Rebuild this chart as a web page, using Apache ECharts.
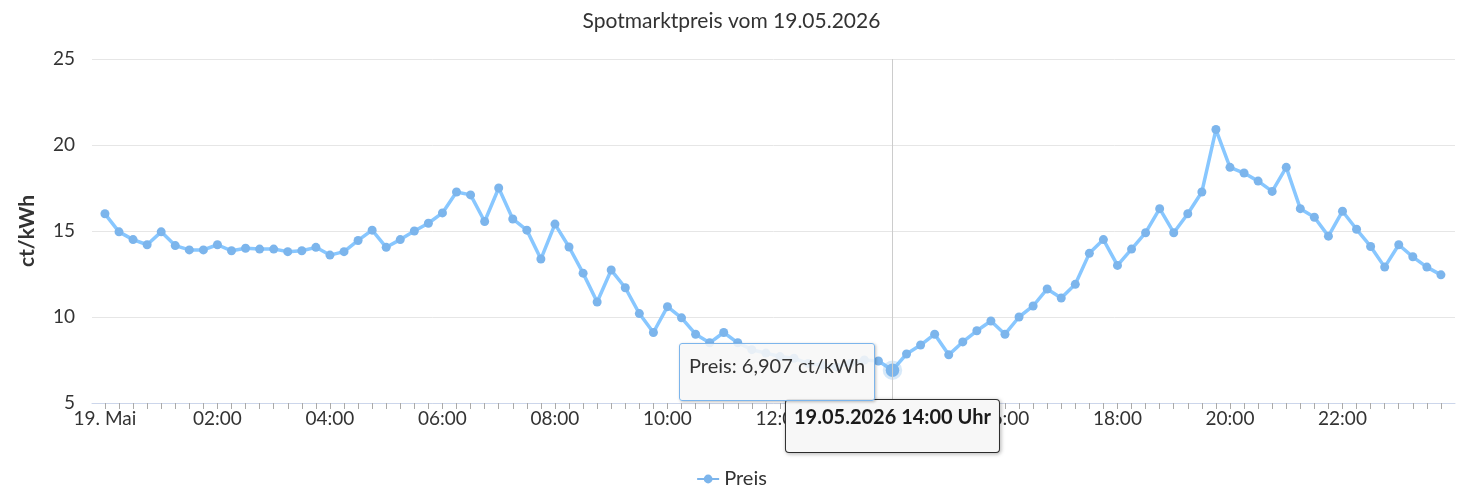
<!DOCTYPE html>
<html>
<head>
<meta charset="utf-8">
<script src="https://cdn.jsdelivr.net/npm/echarts@6/dist/echarts.min.js"></script>
<style>
  html, body { margin: 0; padding: 0; background: #fff; }
  #chart { width: 1463px; height: 488px; }
</style>
</head>
<body>
<div id="chart"></div>
<script>
// Zeitpunkte (15-Minuten-Raster) am 19.05.2026
const times = [
  '00:00','00:15','00:30','00:45','01:00','01:15','01:30','01:45',
  '02:00','02:15','02:30','02:45','03:00','03:15','03:30','03:45',
  '04:00','04:15','04:30','04:45','05:00','05:15','05:30','05:45',
  '06:00','06:15','06:30','06:45','07:00','07:15','07:30','07:45',
  '08:00','08:15','08:30','08:45','09:00','09:15','09:30','09:45',
  '10:00','10:15','10:30','10:45','11:00','11:15','11:30','11:45',
  '12:00','12:15','12:30','12:45','13:00','13:15','13:30','13:45',
  '14:00','14:15','14:30','14:45','15:00','15:15','15:30','15:45',
  '16:00','16:15','16:30','16:45','17:00','17:15','17:30','17:45',
  '18:00','18:15','18:30','18:45','19:00','19:15','19:30','19:45',
  '20:00','20:15','20:30','20:45','21:00','21:15','21:30','21:45',
  '22:00','22:15','22:30','22:45','23:00','23:15','23:30','23:45'
];

// Preis in ct/kWh
const preis = [
  16.0, 14.95, 14.5, 14.2, 14.95, 14.15, 13.9, 13.9,
  14.2, 13.85, 14.0, 13.95, 13.95, 13.8, 13.85, 14.05,
  13.6, 13.8, 14.45, 15.05, 14.05, 14.5, 15.0, 15.45,
  16.05, 17.27, 17.1, 15.55, 17.5, 15.7, 15.05, 13.37,
  15.4, 14.07, 12.55, 10.87, 12.73, 11.7, 10.2, 9.1,
  10.6, 9.95, 9.0, 8.5, 9.1, 8.5, 8.1, 7.9,
  7.7, 7.6, 7.3, 7.2, 7.1, 7.3, 7.5, 7.44,
  6.907, 7.85, 8.37, 9.0, 7.8, 8.55, 9.2, 9.77,
  9.0, 10.0, 10.64, 11.63, 11.1, 11.9, 13.7, 14.5,
  13.0, 13.95, 14.9, 16.3, 14.9, 16.0, 17.27, 20.9,
  18.7, 18.37, 17.9, 17.3, 18.7, 16.3, 15.8, 14.7,
  16.15, 15.1, 14.1, 12.9, 14.2, 13.5, 12.9, 12.45
];

const xLabels = [0, 2, 4, 6, 8, 10, 12, 14, 16, 18, 20, 22];
const yTicks = [5, 10, 15, 20, 25];
const hoverIndex = 56;

function toHours(t) {
  const p = t.split(':');
  return Number(p[0]) + Number(p[1]) / 60;
}
function hhmm(h) {
  const total = Math.round(h * 60);
  const hh = Math.floor(total / 60), mm = total % 60;
  return (hh < 10 ? '0' : '') + hh + ':' + (mm < 10 ? '0' : '') + mm;
}

const hours = times.map(toHours);
const seriesData = hours.map(function (h, i) { return [h, preis[i]]; });

const font = 'Lato, "Noto Sans", sans-serif';
const chart = echarts.init(document.getElementById('chart'));

const option = {
  animation: false,
  textStyle: { fontFamily: font },
  title: {
    text: 'Spotmarktpreis vom 19.05.2026',
    left: 'center',
    top: 6,
    textStyle: { fontSize: 21, fontWeight: 'normal', color: '#333', fontFamily: font }
  },
  grid: { left: 92, right: 8, top: 59, bottom: 85, containLabel: false },
  tooltip: {
    trigger: 'axis',
    alwaysShowContent: true,
    transitionDuration: 0,
    backgroundColor: 'rgba(247,247,247,0.88)',
    borderColor: '#7cb5ec',
    borderWidth: 1,
    borderRadius: 3,
    padding: [6, 9, 20, 9],
    extraCssText: 'box-shadow: 1px 1px 3px rgba(0,0,0,0.25);',
    textStyle: { fontSize: 20, color: '#333', fontFamily: font },
    position: function (point, params, dom, rect, size) {
      return [point[0] - size.contentSize[0] - 17, point[1] - 27];
    },
    formatter: function (params) {
      const v = params[0].value[1];
      return 'Preis: ' + v.toLocaleString('de-DE', { minimumFractionDigits: 3, maximumFractionDigits: 3 }) + ' ct/kWh';
    },
    axisPointer: {
      type: 'line',
      lineStyle: { color: '#cccccc', width: 1, type: 'solid' },
      label: {
        show: true,
        margin: -3,
        formatter: function (p) { return '19.05.2026 ' + hhmm(p.value) + ' Uhr'; },
        backgroundColor: '#f7f7f7',
        borderColor: '#333',
        borderWidth: 1,
        color: '#1a1a1a',
        fontSize: 20,
        fontWeight: 'bold',
        fontFamily: font,
        padding: [8, 8, 24, 8],
        shadowBlur: 4,
        shadowColor: 'rgba(0,0,0,0.25)',
        shadowOffsetX: 1,
        shadowOffsetY: 1
      }
    }
  },
  legend: {
    top: 464,
    left: 'center',
    itemWidth: 22,
    itemHeight: 11,
    textStyle: { fontSize: 20, color: '#333', fontFamily: font },
    data: ['Preis']
  },
  xAxis: {
    type: 'value',
    min: -0.23,
    max: 24,
    axisLine: { show: true, lineStyle: { color: '#ccd6eb', width: 1 } },
    axisTick: {
      show: true,
      length: 6,
      customValues: hours,
      lineStyle: { color: '#aaaaaa' }
    },
    splitLine: { show: false },
    axisLabel: {
      fontSize: 19,
      color: '#333',
      margin: 6,
      fontFamily: font,
      customValues: xLabels,
      formatter: function (v) { return v === 0 ? '19. Mai' : hhmm(v); }
    }
  },
  yAxis: {
    type: 'value',
    min: 5,
    max: 25,
    interval: 5,
    name: 'ct/kWh',
    nameLocation: 'middle',
    nameGap: 54,
    nameTextStyle: { fontSize: 21, fontWeight: 'bold', color: '#333', fontFamily: font },
    axisLine: { show: false },
    axisTick: { show: false },
    axisLabel: { fontSize: 19, color: '#333', margin: 17, fontFamily: font, customValues: yTicks },
    splitLine: { lineStyle: { color: '#e6e6e6', width: 1 } }
  },
  series: [{
    name: 'Preis',
    type: 'line',
    data: seriesData,
    color: '#7cb5ec',
    lineStyle: { width: 3.5, color: '#7cb5ec' },
    symbol: 'circle',
    symbolSize: 9,
    showSymbol: true,
    itemStyle: { color: '#7cb5ec' },
    emphasis: {
      scale: 1.5,
      itemStyle: { color: '#7cb5ec', borderColor: 'rgba(124,181,236,0.3)', borderWidth: 6 },
      lineStyle: { width: 3.5 }
    }
  }]
};

chart.setOption(option);
chart.dispatchAction({ type: 'showTip', seriesIndex: 0, dataIndex: hoverIndex });
</script>
</body>
</html>
